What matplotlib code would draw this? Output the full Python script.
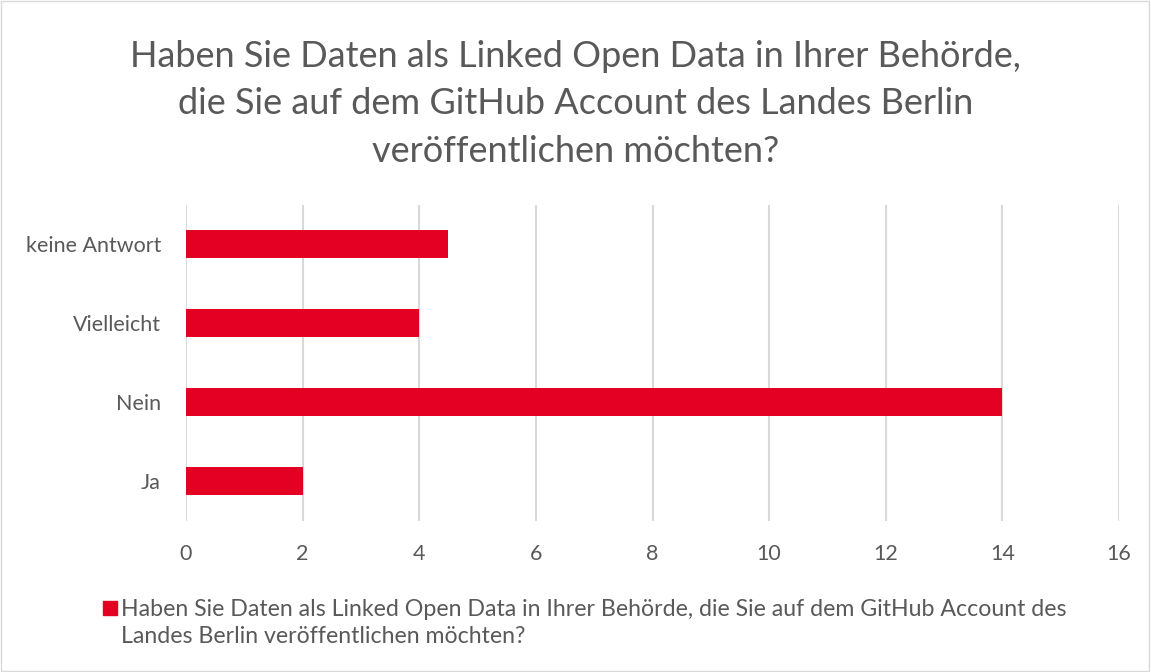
import matplotlib
matplotlib.use("Agg")
import matplotlib.pyplot as plt
from matplotlib.patches import Rectangle

categories = ["Ja", "Nein", "Vielleicht", "keine Antwort"]
values = [2, 14, 4, 4.5]
xticks = [0, 2, 4, 6, 8, 10, 12, 14, 16]
title = ("Haben Sie Daten als Linked Open Data in Ihrer Behörde,\n"
         "die Sie auf dem GitHub Account des Landes Berlin\n"
         "veröffentlichen möchten?")
legend_label = ("Haben Sie Daten als Linked Open Data in Ihrer Behörde, die Sie auf dem GitHub Account des\n"
                "Landes Berlin veröffentlichen möchten?")

plt.rcParams['font.family'] = ['Lato', 'DejaVu Sans']
text_color = "#595959"
bar_color = "#E30022"

W, H = 1151, 672
fig = plt.figure(figsize=(W / 100, H / 100), dpi=100)
ax = fig.add_axes([186 / W, 1 - 520.5 / H, (1119 - 186) / W, (520.5 - 204.5) / H])

ax.barh(range(len(categories)), values, height=0.36, color=bar_color, zorder=3)
ax.set_xlim(0, 16)
ax.set_ylim(-0.5, len(categories) - 0.5)
ax.set_xticks(xticks)
ax.set_xticklabels([str(t) for t in xticks], fontsize=15.5, color=text_color)
ax.set_yticks(range(len(categories)))
ax.set_yticklabels(categories, fontsize=15.5, color=text_color)
ax.tick_params(axis='both', length=0)
ax.tick_params(axis='x', pad=17)
ax.tick_params(axis='y', pad=18)
ax.grid(axis='x', color="#D9D9D9", linewidth=1.5, zorder=0)
for s in ax.spines.values():
    s.set_visible(False)

fig.text(0.5, 1 - 104 / H, title, ha='center', va='center', fontsize=26,
         color=text_color, linespacing=1.55)

# legend
fig.patches.append(Rectangle((103 / W, 1 - 615 / H), 14 / W, 14 / H,
                             transform=fig.transFigure, color=bar_color))
fig.text(121 / W, 1 - 623 / H, legend_label, ha='left', va='center', fontsize=16.7,
         color=text_color, linespacing=1.4)

# border
fig.patches.append(Rectangle((0.001, 0.001), 0.997, 0.997, transform=fig.transFigure,
                             fill=False, edgecolor="#D9D9D9", linewidth=1))

fig.savefig("out.png", dpi=100)
